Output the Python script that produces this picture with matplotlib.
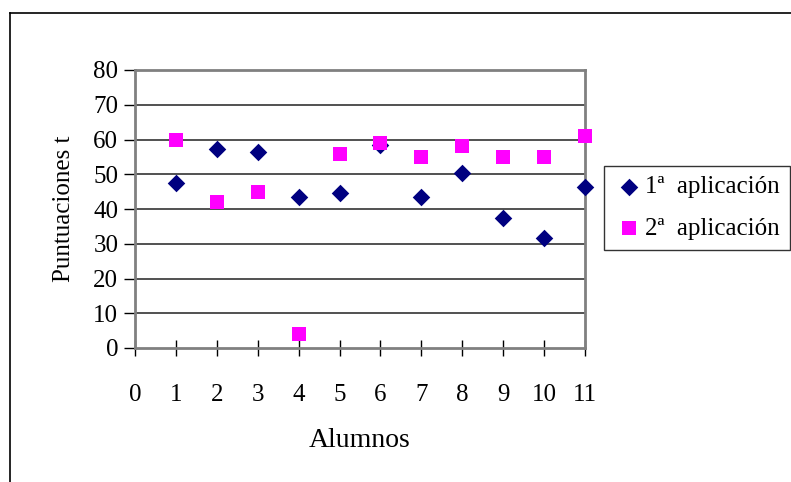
import matplotlib
matplotlib.use("Agg")
import matplotlib.pyplot as plt
from matplotlib.lines import Line2D

# Data
alumnos = [1, 2, 3, 4, 5, 6, 7, 8, 9, 10, 11]
aplic_1 = [47.5, 57.4, 56.3, 43.4, 44.5, 58.4, 43.4, 50.5, 37.5, 31.6, 46.4]
aplic_2 = [60, 42, 45, 4, 55.8, 59, 55, 58, 55, 55, 61]
x_ticks = list(range(0, 12))
y_ticks = list(range(0, 81, 10))
series_labels = ["1ª  aplicación", "2ª  aplicación"]

plt.rcParams["font.family"] = ["Liberation Serif", "DejaVu Serif"]

fig = plt.figure(figsize=(7.91, 4.82), dpi=100)
W, H = 791, 482
ax = fig.add_axes([135 / W, 1 - 348 / H, 450 / W, 278 / H])

# outer chart border (top and left only, as in the source page)
fig.add_artist(Line2D([10 / W, 1], [1 - 13 / H, 1 - 13 / H], color="black", lw=1.2, transform=fig.transFigure))
fig.add_artist(Line2D([10 / W, 10 / W], [0, 1 - 13 / H], color="black", lw=1.2, transform=fig.transFigure))

ax.set_xlim(0, 11)
ax.set_ylim(0, 80)
for y in y_ticks[1:-1]:
    ax.axhline(y, color="#222222", lw=1.1, zorder=1)

ax.scatter(alumnos, aplic_1, marker="D", s=80, color="#000080", zorder=3, label=series_labels[0],
           linewidths=0, clip_on=False)
ax.scatter(alumnos, aplic_2, marker="s", s=95, color="#FF00FF", zorder=3, label=series_labels[1],
           linewidths=0, clip_on=False)

for side in ["top", "right", "left", "bottom"]:
    ax.spines[side].set_color("#808080")
    ax.spines[side].set_linewidth(2)

ax.set_xticks(x_ticks)
ax.set_yticks(y_ticks)
ax.tick_params(axis="x", direction="inout", length=12, width=1, color="black", labelsize=18, pad=20)
ax.tick_params(axis="y", direction="out", length=8, width=1, color="black", labelsize=18, pad=4)

ax.set_xlabel("Alumnos", fontsize=20, labelpad=16)
ax.set_ylabel("Puntuaciones t", fontsize=18, labelpad=13)

leg = ax.legend(loc="upper right", bbox_to_anchor=(790 / W, 1 - 166 / H), bbox_transform=fig.transFigure,
                fontsize=18, frameon=True, fancybox=False, handletextpad=0.05, handlelength=1.2,
                borderpad=0.4, labelspacing=0.75, borderaxespad=0)
leg.get_frame().set_edgecolor("black")
leg.get_frame().set_linewidth(1)

fig.savefig("out.png", dpi=100)
